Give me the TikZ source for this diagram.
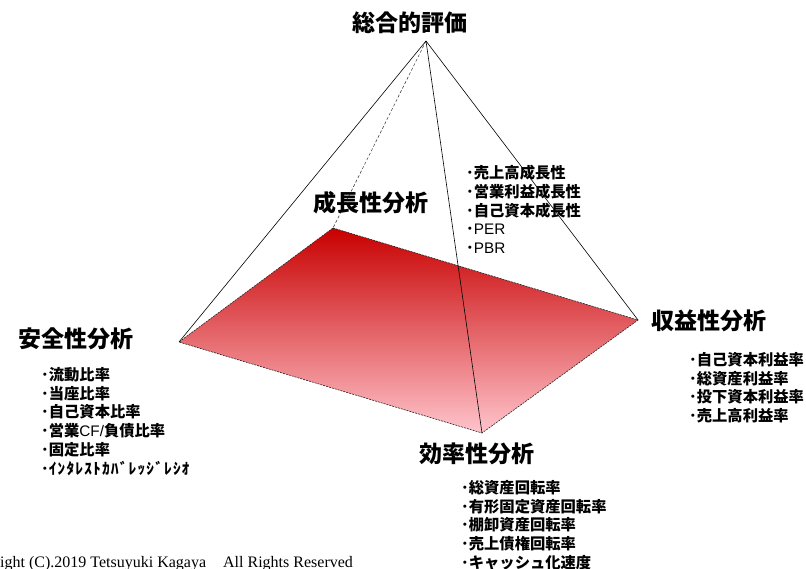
\documentclass[tikz,border=0pt]{standalone}
\usepackage{fontspec}
\setmainfont{Liberation Sans}
\newfontfamily\jp{Noto Sans CJK JP}
\newfontfamily\latsf{Liberation Sans}
\newfontfamily\ser{Liberation Serif}
\newcommand\lt[1]{{\mdseries\latsf #1}}
\newcommand\spaced[1]{{\addfontfeature{LetterSpace=8}#1}}
\tikzset{
  head/.style={font=\jp\bfseries\fontsize{23}{27}\selectfont, inner sep=0pt},
  items/.style={font=\jp\bfseries\fontsize{15.3}{18.8}\selectfont, align=left, anchor=north west, inner sep=0pt},
  edge/.style={line width=0.6pt, black},
  baseedge/.style={line width=0.6pt, black!85, dash pattern=on 2pt off 1pt},
}
\begin{document}
\begin{tikzpicture}[x=1pt,y=-1pt]
\useasboundingbox (0,0) rectangle (806,569);
\clip (0,0) rectangle (806,569);
\coordinate (apex) at (426,41);
\coordinate (back) at (333,228);
\coordinate (left) at (179,342);
\coordinate (right) at (638,320);
\coordinate (front) at (482,433);
% dashed hidden edge
\draw[line width=0.5pt, black!80, dash pattern=on 3pt off 2pt] (apex) -- (back);
% base plane
\shade[top color={rgb,255:red,200;green,0;blue,0}, bottom color={rgb,255:red,255;green,196;blue,204}]
  (back) -- (right) -- (front) -- (left) -- cycle;
\draw[baseedge] (back) -- (right) -- (front) -- (left) -- cycle;
% visible edges
\draw[edge] (apex) -- (left);
\draw[edge] (apex) -- (right);
\draw[edge] (apex) -- (front);
% headings
\node[head] (top) at (410,23) {総合的評価};
\node[head] (growth) at (371,203) {成長性分析};
\node[head] (safety) at (76,339) {安全性分析};
\node[head] (profit) at (709,321) {収益性分析};
\node[head] (eff) at (477,454) {効率性分析};
% lists
\node[items] (growthlist) at (466,165) {･売上高成長性\\･営業利益成長性\\･自己資本成長性\\･\lt{PER}\\･\lt{PBR}};
\node[items] (safetylist) at (41,367) {･流動比率\\･当座比率\\･自己資本比率\\･営業\lt{CF/}負債比率\\･固定比率\\･\spaced{ｲﾝﾀﾚｽﾄｶﾊﾞﾚｯｼﾞﾚｼｵ}};
\node[items] (profitlist) at (689,352) {･自己資本利益率\\･総資産利益率\\･投下資本利益率\\･売上高利益率};
\node[items] (efflist) at (461,480) {･総資産回転率\\･有形固定資産回転率\\･棚卸資産回転率\\･売上債権回転率\\･キャッシュ化速度};
% copyright
\node[anchor=base west, inner sep=0pt, font=\ser\fontsize{16}{18}\selectfont] (copy) at (0,567) {ight (C).2019 Tetsuyuki Kagaya\hspace{17pt}All Rights Reserved};
\end{tikzpicture}
\end{document}
